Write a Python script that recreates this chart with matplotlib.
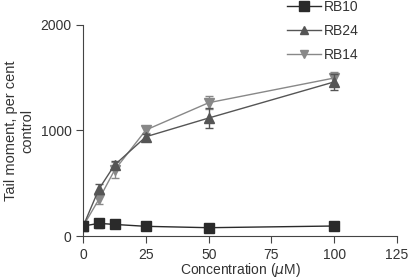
import matplotlib
matplotlib.use("Agg")
import matplotlib.pyplot as plt
from matplotlib.lines import Line2D

plt.rcParams['font.family'] = ['Liberation Sans', 'DejaVu Sans']

conc = [0, 6.25, 12.5, 25, 50, 100]
rb10 = [95, 120, 110, 92, 79, 95]
rb10_err = [10, 40, 15, 10, 10, 10]
rb24 = [95, 445, 673, 941, 1118, 1460]
rb24_err = [10, 50, 40, 30, 95, 75]
rb14 = [95, 348, 625, 1005, 1263, 1497]
rb14_err = [10, 40, 75, 30, 60, 60]

x_ticks = [0, 25, 50, 75, 100, 125]
y_ticks = [0, 1000, 2000]

fig = plt.figure(figsize=(4.1, 2.8), dpi=100)
ax = fig.add_axes([0.203, 0.157, 0.765, 0.754])

styles = [
    ('RB10', rb10, rb10_err, '#2a2a2a', '#666666', 's', 7),
    ('RB24', rb24, rb24_err, '#555555', '#555555', '^', 6.5),
    ('RB14', rb14, rb14_err, '#888888', '#888888', 'v', 6.5),
]
handles = []
for i, (lab, y, e, c, ec, m, ms) in enumerate(styles):
    ax.errorbar(conc, y, yerr=e, color=c, ecolor=ec, marker=m, markersize=ms,
                lw=1.0, capsize=3, elinewidth=1, zorder=3 - i)
    handles.append(Line2D([], [], color=c, marker=m, markersize=ms - 0.5, lw=1.0, label=lab))

ax.set_xlim(0, 125)
ax.set_ylim(0, 2000)
ax.set_xticks(x_ticks)
ax.set_yticks(y_ticks)
ax.spines['top'].set_visible(False)
ax.spines['right'].set_visible(False)
for s in ['left', 'bottom']:
    ax.spines[s].set_color('#444444')
ax.tick_params(direction='out', length=5, colors='#444444', labelcolor='#333333', labelsize=10)
ax.set_xlabel('Concentration ($\\mu$M)', fontsize=10, color='#333333')
ax.xaxis.set_label_coords(0.5, -0.12)
ax.set_ylabel('Tail moment, per cent\ncontrol', fontsize=10.5, color='#333333', linespacing=1.25)
ax.yaxis.set_label_coords(-0.155, 0.5)

leg = fig.legend(handles=handles, loc='upper left', bbox_to_anchor=(0.67, 1.045), frameon=False,
                 fontsize=10, labelspacing=0.72, handlelength=2.4, handletextpad=0.25)
for t in leg.get_texts():
    t.set_color('#333333')

fig.savefig('out.png', dpi=100)
